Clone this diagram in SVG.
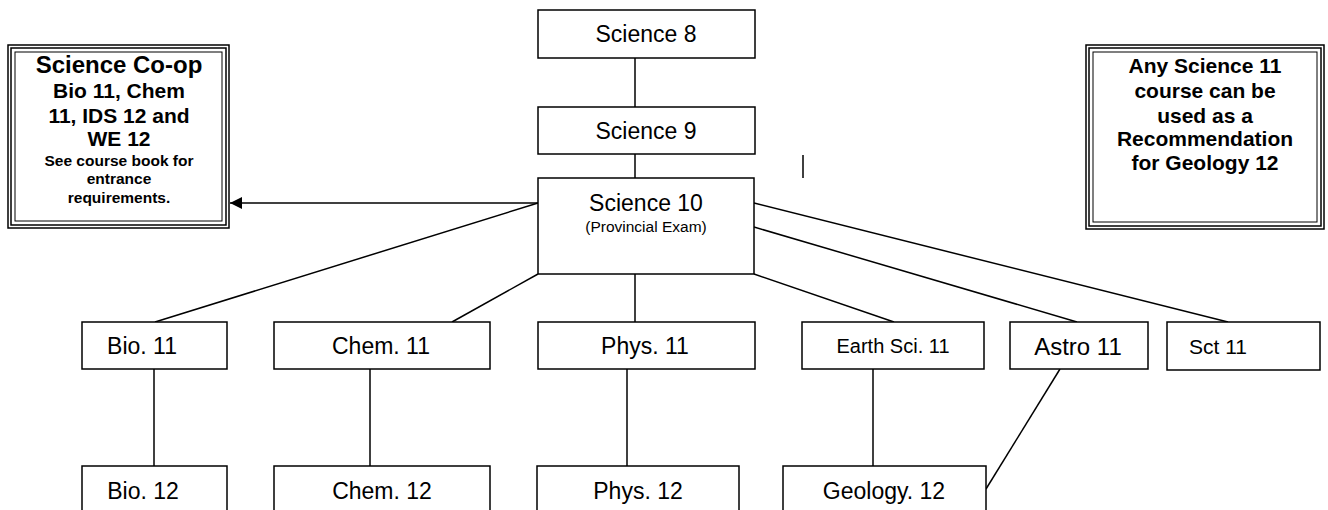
<svg xmlns="http://www.w3.org/2000/svg" width="1328" height="510" viewBox="0 0 1328 510">
<style>
.box{fill:#fff;stroke:#000;stroke-width:1.5}
.ln{stroke:#000;stroke-width:1.5;fill:none}
.t{font-family:"Liberation Sans",Arial,sans-serif;font-size:23px;text-anchor:middle;fill:#000}
.b{font-family:"Liberation Sans",Arial,sans-serif;font-weight:bold;font-size:21px;text-anchor:middle;fill:#000}
.bs{font-size:15.5px}
.tb{fill:none;stroke:#000}
</style>
<defs>
<marker id="ah" markerWidth="12" markerHeight="12" refX="12" refY="6" orient="auto" markerUnits="userSpaceOnUse">
<path d="M0,0 L12,6 L0,12 Z" fill="#000"/>
</marker>
</defs>
<g id="connectors">
<line class="ln" x1="635" y1="58" x2="635" y2="107"/>
<line class="ln" x1="635" y1="154" x2="635" y2="178"/>
<line class="ln" x1="803" y1="155" x2="803" y2="178"/>
<line class="ln" x1="538" y1="203" x2="230" y2="203" marker-end="url(#ah)"/>
<line class="ln" x1="538" y1="203" x2="155" y2="322"/>
<line class="ln" x1="538" y1="274" x2="452" y2="322"/>
<line class="ln" x1="635" y1="274" x2="635" y2="322"/>
<line class="ln" x1="754" y1="274" x2="894" y2="322"/>
<line class="ln" x1="754" y1="227" x2="1077" y2="322"/>
<line class="ln" x1="754" y1="203" x2="1228" y2="322"/>
<line class="ln" x1="154" y1="369" x2="154" y2="466"/>
<line class="ln" x1="370" y1="369" x2="370" y2="466"/>
<line class="ln" x1="627" y1="369" x2="627" y2="466"/>
<line class="ln" x1="873" y1="369" x2="873" y2="466"/>
<line class="ln" x1="1060" y1="369" x2="986" y2="489"/>
</g>
<g id="sci8"><rect class="box" x="538" y="10" width="217" height="48"/><text class="t" x="646" y="42">Science 8</text></g>
<g id="sci9"><rect class="box" x="538" y="107" width="217" height="47"/><text class="t" x="646" y="139">Science 9</text></g>
<g id="sci10"><rect class="box" x="538" y="178" width="216" height="96"/><text class="t" x="646" y="211">Science 10</text><text class="t" x="646" y="232" style="font-size:15.5px">(Provincial Exam)</text></g>
<g id="coop">
<rect class="tb" x="8" y="45" width="221" height="183" stroke-width="1.5"/>
<rect class="tb" x="11" y="48" width="215" height="177" stroke-width="1.5"/>
<rect class="tb" x="15" y="52" width="207" height="169" stroke-width="1"/>
<text class="b" x="119" y="73" style="font-size:24px">Science Co-op</text>
<text class="b" x="119" y="98">Bio 11, Chem</text>
<text class="b" x="119" y="123">11, IDS 12 and</text>
<text class="b" x="119" y="146">WE 12</text>
<text class="b bs" x="119" y="166">See course book for</text>
<text class="b bs" x="119" y="184">entrance</text>
<text class="b bs" x="119" y="203">requirements.</text>
</g>
<g id="note">
<rect class="tb" x="1086" y="45" width="238" height="184" stroke-width="1.5"/>
<rect class="tb" x="1089" y="48" width="232" height="178" stroke-width="1.5"/>
<rect class="tb" x="1093" y="52" width="224" height="170" stroke-width="1"/>
<text class="b" x="1205" y="73">Any Science 11</text>
<text class="b" x="1205" y="98">course can be</text>
<text class="b" x="1205" y="123">used as a</text>
<text class="b" x="1205" y="146">Recommendation</text>
<text class="b" x="1205" y="170">for Geology 12</text>
</g>
<g id="bio11"><rect class="box" x="82" y="322" width="145" height="47"/><text class="t" x="142" y="354">Bio. 11</text></g>
<g id="chem11"><rect class="box" x="274" y="322" width="216" height="47"/><text class="t" x="381" y="354">Chem. 11</text></g>
<g id="phys11"><rect class="box" x="538" y="322" width="217" height="47"/><text class="t" x="645" y="354">Phys. 11</text></g>
<g id="earth11"><rect class="box" x="802" y="322" width="182" height="47"/><text class="t" x="893" y="353" style="font-size:20px">Earth Sci. 11</text></g>
<g id="astro11"><rect class="box" x="1010" y="322" width="138" height="47"/><text class="t" x="1078" y="355" style="font-size:24px">Astro 11</text></g>
<g id="sct11"><rect class="box" x="1167" y="322" width="153" height="48"/><text class="t" x="1218" y="354" style="font-size:21px">Sct 11</text></g>
<g id="bio12"><rect class="box" x="82" y="466" width="145" height="50"/><text class="t" x="143" y="499">Bio. 12</text></g>
<g id="chem12"><rect class="box" x="274" y="466" width="216" height="50"/><text class="t" x="382" y="499">Chem. 12</text></g>
<g id="phys12"><rect class="box" x="537" y="466" width="202" height="50"/><text class="t" x="638" y="499">Phys. 12</text></g>
<g id="geo12"><rect class="box" x="783" y="466" width="203" height="50"/><text class="t" x="884" y="499">Geology. 12</text></g>
</svg>
